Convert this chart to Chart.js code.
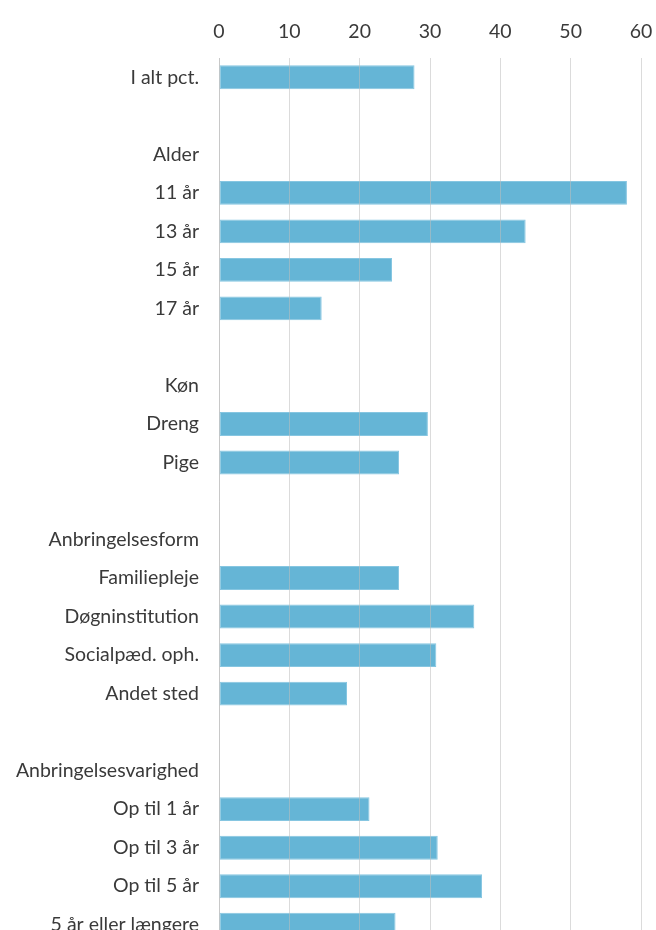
<!DOCTYPE html>
<html>
<head>
<meta charset="utf-8">
<script src="https://cdn.jsdelivr.net/npm/chart.js@4"></script>
<style>
  html, body { margin: 0; padding: 0; background: #fff; overflow: hidden; }
  #wrap { width: 656px; height: 944px; }
</style>
</head>
<body>
<div id="wrap"><canvas id="chart" width="656" height="944"></canvas></div>
<script>
const categories = [
  "I alt pct.", "",
  "Alder", "11 år", "13 år", "15 år", "17 år", "",
  "Køn", "Dreng", "Pige", "",
  "Anbringelsesform", "Familiepleje", "Døgninstitution", "Socialpæd. oph.", "Andet sted", "",
  "Anbringelsesvarighed", "Op til 1 år", "Op til 3 år", "Op til 5 år", "5 år eller længere",
];

const values = [
  27.8, null,
  null, 58.0, 43.6, 24.6, 14.6, null,
  null, 29.7, 25.6, null,
  null, 25.6, 36.3, 30.9, 18.2, null,
  null, 21.4, 31.1, 37.4, 25.1,
];

const tickValues = [0, 10, 20, 30, 40, 50, 60];

const textColor = "#3a3a3a";
const font = { family: "Lato, 'Open Sans', sans-serif", size: 19.5 };

new Chart(document.getElementById("chart"), {
  type: "bar",
  data: {
    labels: categories,
    datasets: [
      {
        data: values,
        backgroundColor: "#65b5d6",
        borderColor: "#86c6e1",
        borderWidth: 1,
        borderSkipped: false,
        barPercentage: 0.62,
        categoryPercentage: 1,
      },
    ],
  },
  options: {
    indexAxis: "y",
    responsive: false,
    animation: false,
    layout: { padding: { left: 0, right: 15, top: 0, bottom: 0 } },
    plugins: {
      legend: { display: false },
      tooltip: { enabled: false },
    },
    scales: {
      x: {
        position: "top",
        min: tickValues[0],
        max: tickValues[tickValues.length - 1],
        afterBuildTicks: (scale) => {
          scale.ticks = tickValues.map((v) => ({ value: v }));
        },
        afterFit: (scale) => {
          scale.height = 58;
          scale.paddingLeft = 0;
          scale.paddingRight = 0;
        },
        grid: {
          color: "rgba(190, 190, 190, 0.55)",
          lineWidth: 1,
          drawTicks: false,
          z: 1,
        },
        border: { display: false },
        ticks: {
          color: textColor,
          font: font,
          padding: 15,
        },
      },
      y: {
        afterFit: (scale) => {
          scale.width = 219;
          scale.paddingTop = 0;
          scale.paddingBottom = 0;
        },
        grid: { display: false, drawTicks: false },
        border: { display: true, color: "#d4d4d4", width: 1 },
        ticks: {
          color: textColor,
          font: font,
          padding: 20,
          autoSkip: false,
        },
      },
    },
  },
});
</script>
</body>
</html>
